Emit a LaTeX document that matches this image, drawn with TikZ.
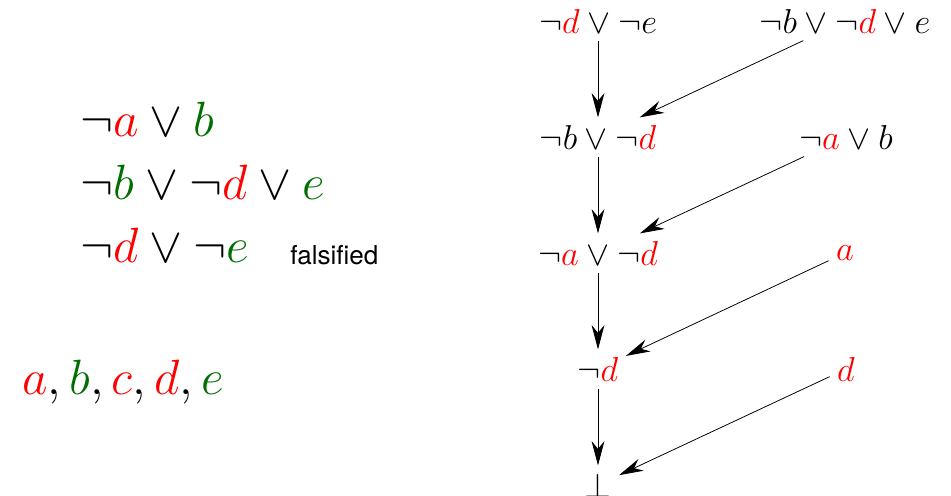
\RequirePackage{fix-cm}
\documentclass[tikz,border=0pt]{standalone}
\usepackage{fontspec}
\newfontfamily\notefont{TeX Gyre Heros}
\usepackage{xcolor}
\definecolor{litred}{RGB}{255,0,0}
\definecolor{litgreen}{RGB}{0,110,0}
\newcommand{\fls}[1]{\textcolor{litred}{#1}}
\newcommand{\tru}[1]{\textcolor{litgreen}{#1}}
\usetikzlibrary{arrows.meta,positioning}

\begin{document}
\begin{tikzpicture}[
  x=0.5144pt, y=0.5144pt,
  res/.style={font=\fontsize{17.8}{21}\selectfont, inner sep=3.7pt},
  clause/.style={font=\fontsize{25.5}{30}\selectfont, inner sep=0pt, anchor=base west},
  step arrow/.style={-{Stealth[length=12.5pt, width=6.6pt, inset=4pt]}},
]
\useasboundingbox (0,0) rectangle (951,496);

% Clauses with current assignment
\node[clause] (c1) at (80,359) {$\neg\fls{a} \vee \tru{b}$};
\node[clause] (c2) at (80,296) {$\neg\tru{b} \vee \neg\fls{d} \vee \tru{e}$};
\node[clause] (c3) at (80,233) {$\neg\fls{d} \vee \neg\tru{e}$};
\node[inner sep=0pt, anchor=base west, font=\notefont\fontsize{13.4}{16}\selectfont] (fal) at (290,231) {falsified};

% Assignment
\node[clause] (asg) at (22,101) {$\fls{a}, \tru{b}, \fls{c}, \fls{d}, \tru{e}$};

% Resolution chain
\node[res] (r1) at (598,475) {$\neg\fls{d} \vee \neg e$};
\node[res] (s1) at (845,475) {$\neg b \vee \neg\fls{d} \vee e$};
\node[res] (r2) at (598,359) {$\neg b \vee \neg\fls{d}$};
\node[res] (s2) at (846,359) {$\neg\fls{a} \vee b$};
\node[res] (r3) at (598,243) {$\neg\fls{a} \vee \neg\fls{d}$};
\node[res] (s3) at (845,243) {$\fls{a}$};
\node[res] (r4) at (598,127) {$\neg\fls{d}$};
\node[res] (s4) at (846,127) {$\fls{d}$};
\node[res] (r5) at (598,11) {$\bot$};

% Arrows
\draw[step arrow] (r1) -- (r2);
\draw[step arrow] (s1) -- (r2);
\draw[step arrow] (r2) -- (r3);
\draw[step arrow] (s2) -- (r3);
\draw[step arrow] (r3) -- (r4);
\draw[step arrow] (s3) -- (r4);
\draw[step arrow] (r4) -- (r5);
\draw[step arrow] (s4) -- (r5);

\end{tikzpicture}
\end{document}
